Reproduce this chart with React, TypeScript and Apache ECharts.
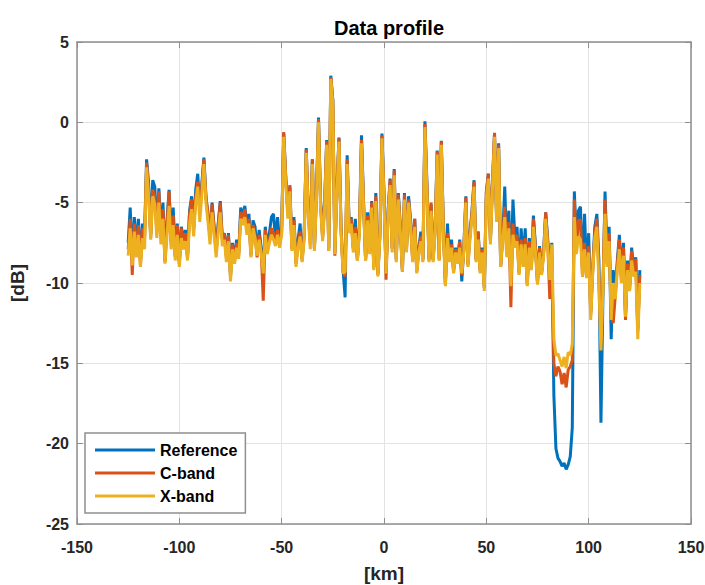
import React, { useEffect, useRef } from "react";
import * as echarts from "echarts";

// distance axis: one sample per km, from -125 km to 125 km
const startKm = -125;
const stepKm = 1;

const reference = [
  -7.5, -5.3, -8.6, -5.9, -7.8, -6.0, -8.6, -6.3, -7.1, -2.3,
  -3.8, -7.0, -3.6, -4.0, -6.5, -4.1, -7.0, -5.0, -8.6, -6.1,
  -4.2, -7.4, -5.3, -8.3, -6.3, -8.8, -6.5, -7.3, -6.7, -8.3,
  -5.5, -4.6, -6.5, -4.2, -3.2, -5.5, -3.8, -2.2, -4.6, -5.9,
  -7.0, -5.0, -6.5, -8.0, -6.3, -4.9, -7.2, -6.9, -8.3, -6.9,
  -9.6, -7.5, -8.5, -7.3, -8.1, -5.3, -5.9, -5.2, -6.5, -5.7,
  -8.2, -6.1, -6.5, -8.1, -6.7, -7.8, -9.3, -6.5, -7.8, -6.9,
  -5.9, -5.7, -7.3, -5.9, -7.5, -6.5, -0.7, -3.4, -5.5, -4.0,
  -7.8, -5.9, -8.8, -7.3, -6.3, -8.5, -6.9, -1.6, -5.5, -7.1,
  -2.3, -7.8, -4.4, 0.3, -4.9, -7.1, -4.9, -1.1, -7.8, 2.9,
  1.4, -8.1, -4.0, -0.95, -6.5, -9.2, -10.9, -2.05, -6.5, -5.9,
  -7.8, -6.0, -8.5, -6.5, -0.8, -4.9, -8.5, -5.6, -8.0, -4.9,
  -9.0, -4.4, -9.4, -6.9, -0.7, -4.4, -9.3, -5.5, -3.5, -7.8,
  -2.9, -8.5, -4.4, -6.5, -9.2, -4.4, -7.8, -4.6, -6.1, -8.5,
  -6.0, -9.2, -7.8, -6.8, -8.5, 0.06, -3.9, -8.5, -5.1, -8.5,
  -6.5, -1.75, -8.5, -1.15, -6.5, -10.0, -6.3, -8.5, -7.3, -9.2,
  -7.8, -8.5, -7.3, -9.9, -7.8, -4.6, -8.8, -6.9, -5.5, -3.6,
  -8.5, -6.8, -9.2, -7.8, -10.3, -4.4, -3.2, -7.3, -3.8, -0.7,
  -5.9, -1.3, -8.9, -7.1, -4.0, -8.0, -5.5, -10.0, -4.8, -7.3,
  -6.5, -9.3, -6.6, -8.6, -6.6, -10.0, -7.2, -9.0, -5.8, -7.7,
  -9.9, -7.7, -9.3, -8.0, -5.6, -7.3, -9.0, -7.5, -17.0, -20.3,
  -20.9, -21.1, -21.4, -21.2, -21.6, -21.3, -20.8, -19.0, -4.3, -7.5,
  -5.5, -5.25, -9.2, -5.7, -9.4, -6.9, -11.8, -9.0, -6.5, -5.7,
  -8.6, -18.7, -10.6, -4.3, -8.6, -6.5, -13.5, -9.2, -10.6, -8.6,
  -7.0, -9.6, -7.5, -12.0, -8.6, -10.2, -7.8, -9.2, -8.4, -12.8,
  -9.2,
];

const cBand = [
  -7.9, -6.0, -9.5, -6.3, -8.1, -6.4, -8.9, -6.6, -7.3, -2.5,
  -4.2, -7.2, -4.2, -4.6, -6.8, -4.3, -7.1, -5.4, -8.7, -6.3,
  -4.3, -7.6, -5.8, -8.4, -6.4, -8.6, -6.6, -7.4, -6.9, -8.4,
  -5.7, -4.8, -6.7, -4.6, -3.7, -5.6, -4.0, -2.3, -4.7, -5.6,
  -7.1, -5.1, -6.6, -8.1, -6.4, -5.0, -7.3, -6.9, -8.4, -7.0,
  -9.4, -7.6, -8.6, -7.5, -8.3, -5.6, -6.0, -5.4, -6.7, -6.0,
  -8.3, -6.4, -7.0, -8.4, -7.0, -8.0, -11.1, -6.7, -8.0, -7.3,
  -6.6, -6.9, -7.5, -6.7, -7.6, -6.8, -0.6, -3.5, -5.6, -3.9,
  -7.9, -6.1, -8.7, -7.6, -6.8, -8.6, -7.0, -1.7, -5.6, -7.6,
  -2.3, -7.9, -4.5, 0.2, -5.0, -7.2, -5.0, -1.2, -8.0, 2.8,
  1.3, -8.3, -4.1, -1.0, -6.6, -9.3, -9.6, -2.3, -6.7, -6.0,
  -7.9, -6.5, -8.6, -6.6, -1.1, -5.0, -8.6, -5.8, -8.1, -5.0,
  -9.1, -4.6, -9.5, -7.0, -0.8, -4.5, -9.8, -5.6, -3.6, -7.9,
  -3.0, -8.6, -4.5, -6.7, -9.3, -4.5, -7.9, -4.8, -6.2, -8.6,
  -6.0, -9.3, -7.9, -7.1, -8.6, -0.1, -4.1, -8.6, -5.0, -8.6,
  -6.6, -1.8, -8.6, -1.2, -6.6, -10.1, -6.9, -8.6, -7.6, -9.3,
  -7.9, -8.6, -7.4, -9.5, -7.9, -4.7, -8.9, -7.0, -5.6, -3.7,
  -8.6, -6.8, -9.3, -7.9, -10.2, -4.3, -3.2, -7.4, -3.7, -0.65,
  -6.0, -1.4, -9.0, -7.0, -5.25, -8.2, -6.2, -11.5, -6.3, -7.6,
  -7.0, -9.4, -7.3, -8.8, -7.2, -10.1, -7.4, -9.1, -6.0, -7.8,
  -10.0, -7.8, -9.4, -8.1, -5.6, -7.5, -11.0, -8.8, -15.0, -15.8,
  -15.2, -15.5, -16.3, -15.6, -16.5, -15.4, -15.2, -14.8, -4.8, -7.8,
  -6.1, -6.1, -9.6, -7.5, -9.6, -7.7, -12.0, -9.2, -6.9, -6.0,
  -9.5, -13.8, -10.0, -4.8, -8.8, -6.9, -12.0, -12.5, -10.8, -8.8,
  -7.3, -9.8, -7.8, -12.3, -8.8, -10.4, -8.0, -9.4, -8.5, -13.0,
  -9.5,
];

const xBand = [
  -8.3, -6.6, -8.9, -6.8, -8.4, -7.0, -9.0, -7.2, -7.9, -2.8,
  -4.6, -7.3, -4.6, -5.1, -7.2, -5.0, -7.6, -6.0, -8.8, -7.0,
  -5.2, -7.9, -6.4, -8.6, -7.0, -9.0, -7.2, -7.9, -7.4, -8.6,
  -6.3, -5.4, -7.1, -5.0, -4.0, -6.2, -4.5, -2.6, -5.0, -6.2,
  -7.6, -5.6, -7.0, -8.4, -6.9, -5.6, -7.7, -7.3, -8.7, -7.4,
  -9.9, -7.9, -8.8, -7.8, -8.5, -6.0, -6.4, -5.9, -7.0, -6.3,
  -8.4, -6.6, -7.2, -8.3, -7.3, -8.2, -9.4, -7.0, -8.2, -7.5,
  -7.0, -7.3, -7.7, -7.0, -7.8, -7.0, -0.9, -3.8, -6.0, -4.3,
  -8.0, -6.4, -9.0, -7.8, -7.1, -8.7, -7.3, -1.9, -5.9, -7.9,
  -2.6, -8.0, -4.8, 0.0, -5.3, -7.4, -5.4, -1.4, -8.0, 2.7,
  1.1, -8.2, -4.4, -1.2, -6.8, -9.4, -9.3, -2.6, -6.9, -6.3,
  -8.1, -6.9, -8.6, -6.9, -1.3, -5.3, -8.6, -6.1, -8.2, -5.3,
  -9.2, -4.9, -9.6, -7.2, -1.0, -4.8, -9.4, -5.9, -3.9, -8.1,
  -3.3, -8.7, -4.8, -6.9, -9.3, -4.8, -8.1, -5.0, -6.5, -8.7,
  -6.5, -9.4, -8.1, -7.4, -8.7, -0.3, -4.4, -8.7, -5.5, -8.7,
  -6.9, -2.0, -8.6, -1.4, -6.9, -10.2, -7.2, -8.7, -7.8, -9.4,
  -8.1, -8.8, -7.8, -9.4, -8.1, -5.0, -9.0, -7.3, -5.9, -4.0,
  -8.7, -7.3, -9.4, -8.1, -10.5, -4.7, -3.5, -7.6, -4.1, -0.9,
  -6.2, -1.6, -9.0, -7.4, -5.9, -8.4, -6.6, -10.2, -7.0, -7.8,
  -7.4, -9.5, -7.6, -9.0, -7.6, -10.2, -7.8, -9.2, -6.5, -8.1,
  -10.1, -8.1, -9.5, -8.3, -6.0, -7.8, -9.8, -7.6, -13.5, -14.5,
  -14.4, -14.8, -15.2, -14.6, -15.3, -14.3, -14.5, -13.8, -5.9, -8.2,
  -7.1, -7.3, -9.6, -7.9, -9.7, -8.1, -12.3, -9.3, -7.2, -6.5,
  -10.0, -14.2, -10.4, -5.7, -9.0, -7.4, -12.3, -10.0, -11.0, -9.2,
  -7.9, -10.0, -8.3, -12.1, -9.2, -10.5, -8.6, -9.6, -9.3, -13.5,
  -10.0,
];

const seriesNames = ["Reference", "C-band", "X-band"];
const seriesColors = ["#0072BD", "#D95319", "#EDB120"];

const xMin = -150;
const xMax = 150;
const xStep = 50;
const yMin = -25;
const yMax = 5;
const yStep = 5;

const FONT = "'Liberation Sans', Arial, Helvetica, sans-serif";

function toPairs(values: number[]): [number, number][] {
  return values.map((v, i) => [startKm + i * stepKm, v]);
}

export default function App() {
  const ref = useRef<HTMLDivElement>(null);

  useEffect(() => {
    document.body.style.margin = "0";
    const chart = echarts.init(ref.current!, null, { renderer: "svg" });
    const frame = { show: true, lineStyle: { color: "#8f8f8f", width: 1.5 } };
    const tickIn = { show: true, inside: true, length: 6, lineStyle: { color: "#8f8f8f", width: 1 } };
    const grid = { show: true, lineStyle: { color: "#e3e3e3", width: 1 } };
    const labelStyle = { color: "#262626", fontFamily: FONT, fontSize: 16, fontWeight: "bold" as const };
    const nameStyle = { color: "#262626", fontFamily: FONT, fontSize: 19, fontWeight: "bold" as const };

    chart.setOption({
      animation: false,
      backgroundColor: "#ffffff",
      title: {
        text: "Data profile",
        left: 384,
        textAlign: "center",
        top: 13,
        textStyle: { color: "#000", fontFamily: FONT, fontSize: 20, fontWeight: "bold" },
      },
      grid: {
        left: 77,
        top: 42,
        width: 614,
        height: 482,
        containLabel: false,
        outerBoundsMode: "none",
      },
      legend: {
        orient: "vertical",
        left: 85,
        top: 433,
        padding: [8, 8, 8, 10],
        backgroundColor: "#ffffff",
        borderColor: "#8f8f8f",
        borderWidth: 1.5,
        borderRadius: 0,
        itemWidth: 60,
        itemHeight: 3,
        itemGap: 5,
        icon: "rect",
        data: seriesNames,
        textStyle: { color: "#000", fontFamily: FONT, fontSize: 16, fontWeight: "bold", lineHeight: 18 },
      },
      xAxis: [
        {
          type: "value",
          min: xMin,
          max: xMax,
          interval: xStep,
          position: "bottom",
          axisLine: { ...frame, onZero: false },
          axisTick: tickIn,
          splitLine: grid,
          axisLabel: { ...labelStyle, margin: 15 },
          name: "[km]",
          nameLocation: "middle",
          nameGap: 40,
          nameTextStyle: nameStyle,
        },
        {
          type: "value",
          min: xMin,
          max: xMax,
          interval: xStep,
          position: "top",
          axisLine: { ...frame, onZero: false },
          axisTick: tickIn,
          splitLine: { show: false },
          axisLabel: { show: false },
        },
      ],
      yAxis: [
        {
          type: "value",
          min: yMin,
          max: yMax,
          interval: yStep,
          position: "left",
          axisLine: { ...frame, onZero: false },
          axisTick: tickIn,
          splitLine: grid,
          axisLabel: { ...labelStyle, margin: 8 },
          name: "[dB]",
          nameLocation: "middle",
          nameGap: 50,
          nameTextStyle: nameStyle,
        },
        {
          type: "value",
          min: yMin,
          max: yMax,
          interval: yStep,
          position: "right",
          axisLine: { ...frame, onZero: false },
          axisTick: tickIn,
          splitLine: { show: false },
          axisLabel: { show: false },
        },
      ],
      series: [reference, cBand, xBand].map((vals, i) => ({
        name: seriesNames[i],
        type: "line",
        xAxisIndex: 0,
        yAxisIndex: 0,
        data: toPairs(vals),
        showSymbol: false,
        symbol: "none",
        lineStyle: { color: seriesColors[i], width: 3 },
        itemStyle: { color: seriesColors[i] },
        z: 2 + i,
      })),
    });

    return () => chart.dispose();
  }, []);

  return (
    <div
      ref={ref}
      style={{ position: "absolute", left: 0, top: 0, width: 705, height: 585, background: "#fff" }}
    />
  );
}
